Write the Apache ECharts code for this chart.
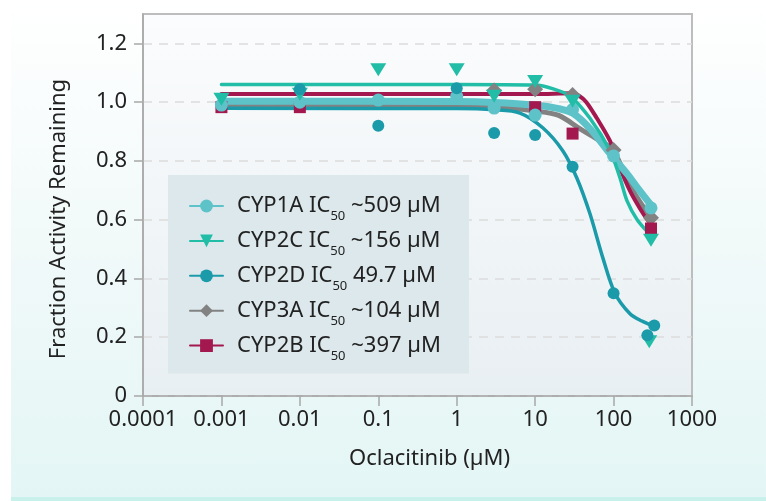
<!DOCTYPE html>
<html>
<head>
<meta charset="utf-8">
<script src="https://cdn.jsdelivr.net/npm/echarts@6/dist/echarts.min.js"></script>
<style>
  html, body { margin: 0; padding: 0; background: #ffffff; }
  #wrap { position: relative; width: 766px; height: 501px; overflow: hidden; }
  #panel { position: absolute; left: 11px; top: 0; width: 755px; height: 497px;
           background: linear-gradient(to bottom, #ffffff 0%, #f1f9f9 50%, #e3f6f5 100%); }
  #strip { position: absolute; left: 11px; top: 497px; width: 755px; height: 4px; background: #c9f1ec; }
  #chart { position: absolute; left: 0; top: 0; width: 766px; height: 501px; }
</style>
</head>
<body>
<div id="wrap">
  <div id="panel"></div>
  <div id="strip"></div>
  <div id="chart"></div>
</div>
<script>
// Axis ticks
const xTickValues = [0.0001, 0.001, 0.01, 0.1, 1, 10, 100, 1000];
const xTickLabels = ['0.0001', '0.001', '0.01', '0.1', '1', '10', '100', '1000'];
const yTickValues = [0, 0.2, 0.4, 0.6, 0.8, 1.0, 1.2];
const yTickLabels = ['0', '0.2', '0.4', '0.6', '0.8', '1.0', '1.2'];

// Enzymes and their IC50 estimates (µM)
const enzymes = ['CYP1A', 'CYP2C', 'CYP2D', 'CYP3A', 'CYP2B'];
const ic50Text = ['~509', '~156', '49.7', '~104', '~397'];

// Measured fraction of activity remaining: [concentration µM, fraction]
const cyp1aPoints = [[0.001, 0.99], [0.01, 1.0], [0.1, 1.007], [1, 1.02], [3, 0.98], [10, 0.956], [30, 0.975], [100, 0.817], [300, 0.64]];
const cyp2cPoints = [[0.001, 1.01], [0.01, 1.027], [0.1, 1.11], [1, 1.11], [3, 1.02], [10, 1.07], [30, 1.003], [300, 0.53], [285, 0.185]];
const cyp2dPoints = [[0.01, 1.044], [0.1, 0.92], [1, 1.047], [3, 0.895], [10, 0.888], [30, 0.78], [100, 0.35], [330, 0.24], [270, 0.207]];
const cyp3aPoints = [[3, 1.04], [10, 1.044], [30, 1.024], [100, 0.837], [300, 0.607]];
const cyp2bPoints = [[0.001, 0.983], [0.01, 0.983], [10, 0.983], [30, 0.893], [300, 0.57]];

// Fitted inhibition curves, sampled along concentration
const cyp1aFit = [[0.001, 1.003], [1, 1.002], [3, 0.999], [10, 0.99], [20, 0.978], [30, 0.963], [50, 0.91], [90, 0.825], [150, 0.755], [200, 0.71], [310, 0.645]];
const cyp2cFit = [[0.001, 1.06], [1, 1.06], [10, 1.058], [17, 1.045], [28, 1.02], [50, 0.945], [90, 0.835], [120, 0.745], [148, 0.665], [200, 0.6], [290, 0.55], [310, 0.545]];
const cyp2dFit = [[0.001, 0.979], [1, 0.978], [3, 0.974], [6.4, 0.963], [12.6, 0.912], [22.6, 0.834], [34, 0.742], [50, 0.62], [73, 0.47], [104, 0.35], [162, 0.28], [230, 0.255], [310, 0.24]];
const cyp3aFit = [[0.001, 0.99], [1, 0.988], [3, 0.985], [10, 0.97], [20, 0.955], [37, 0.91], [61, 0.875], [98, 0.837], [160, 0.72], [230, 0.65], [310, 0.607]];
const cyp2bFit = [[0.001, 1.028], [10, 1.028], [30, 1.03], [37, 1.02], [45, 1.0], [61, 0.946], [90, 0.868], [121, 0.776], [162, 0.698], [215, 0.64], [275, 0.597], [310, 0.585]];

const FONT = 'Noto Sans';
const TEXT = '#222222';

const styles = {
  CYP1A: { color: '#5ec3c9', width: 7, symbol: 'circle', size: 13, points: cyp1aPoints, fit: cyp1aFit },
  CYP2C: { color: '#21bda7', width: 3.5, symbol: 'path://M0,0 L16,0 L8,13 Z', size: [16, 13], points: cyp2cPoints, fit: cyp2cFit },
  CYP2D: { color: '#1b9aa9', width: 3.5, symbol: 'circle', size: 12, points: cyp2dPoints, fit: cyp2dFit },
  CYP3A: { color: '#828282', width: 5, symbol: 'diamond', size: [16, 16], points: cyp3aPoints, fit: cyp3aFit },
  CYP2B: { color: '#a3194f', width: 4, symbol: 'rect', size: 12, points: cyp2bPoints, fit: cyp2bFit }
};

// Curves drawn back to front, markers on top
const drawOrder = ['CYP3A', 'CYP2B', 'CYP1A', 'CYP2C', 'CYP2D'];
const series = [];
drawOrder.forEach(function (name) {
  const s = styles[name];
  series.push({
    name: name, type: 'line', data: s.fit, smooth: 0.3,
    showSymbol: false, symbol: s.symbol, symbolSize: s.size,
    lineStyle: { color: s.color, width: s.width, cap: 'round', join: 'round' },
    itemStyle: { color: s.color }, z: 2, silent: true
  });
});
drawOrder.forEach(function (name) {
  const s = styles[name];
  series.push({
    name: name, type: 'scatter', data: s.points,
    symbol: s.symbol, symbolSize: s.size,
    itemStyle: { color: s.color, opacity: 1 }, z: 3, silent: true
  });
});

const chart = echarts.init(document.getElementById('chart'), null, { renderer: 'canvas' });
chart.setOption({
  backgroundColor: 'transparent',
  animation: false,
  textStyle: { fontFamily: FONT },
  grid: {
    left: 143, right: 74, top: 14, bottom: 105,
    show: true, borderColor: '#bdbdbd', borderWidth: 2,
    backgroundColor: new echarts.graphic.LinearGradient(0, 0, 0, 1, [
      { offset: 0, color: '#fbfcfd' }, { offset: 1, color: '#e8eff2' }
    ]),
    outerBoundsMode: 'none'
  },
  legend: {
    data: enzymes,
    orient: 'vertical', left: 168, top: 175,
    padding: [20, 28, 11, 21],
    backgroundColor: '#dce8ec',
    itemWidth: 33, itemHeight: 16, itemGap: 6.9,
    selectedMode: false,
    formatter: function (name) {
      const i = enzymes.indexOf(name);
      return '{t|' + name + ' IC}{s|50}{t| ' + ic50Text[i] + ' µM}';
    },
    textStyle: {
      padding: [0, 0, 0, 9],
      rich: {
        t: { fontFamily: FONT, fontSize: 22, color: TEXT, lineHeight: 34 },
        s: { fontFamily: FONT, fontSize: 13, color: TEXT, lineHeight: 13, verticalAlign: 'bottom' }
      }
    }
  },
  xAxis: {
    type: 'log', logBase: 10, min: 0.0001, max: 1000,
    name: 'Oclacitinib (µM)', nameLocation: 'middle', nameGap: 52,
    nameTextStyle: { fontFamily: FONT, fontSize: 22, color: TEXT, padding: [0, 0, 0, 24] },
    axisLine: { show: true, lineStyle: { color: '#a8a8a8', width: 1.5 } },
    axisTick: { show: true, length: 10, lineStyle: { color: '#a8a8a8', width: 1.5 }, customValues: xTickValues },
    axisLabel: {
      fontFamily: FONT, fontSize: 22, color: TEXT, margin: 13,
      customValues: xTickValues,
      formatter: function (v) {
        const i = xTickValues.findIndex(function (t) { return Math.abs(Math.log10(t) - Math.log10(v)) < 1e-6; });
        return i >= 0 ? xTickLabels[i] : '';
      }
    },
    splitLine: { show: false },
    minorTick: { show: false }
  },
  yAxis: {
    type: 'value', min: 0, max: 1.3, interval: 0.2,
    name: 'Fraction Activity Remaining', nameLocation: 'middle', nameGap: 73,
    nameTextStyle: { fontFamily: FONT, fontSize: 22, color: TEXT, padding: [0, 28, 0, 0] },
    axisLine: { show: true, lineStyle: { color: '#a8a8a8', width: 1.5 } },
    axisTick: { show: true, length: 9, lineStyle: { color: '#a8a8a8', width: 1.5 }, customValues: yTickValues },
    axisLabel: {
      fontFamily: FONT, fontSize: 22, color: TEXT, margin: 16,
      customValues: yTickValues,
      formatter: function (v) {
        const i = yTickValues.findIndex(function (t) { return Math.abs(t - v) < 1e-6; });
        return i >= 0 ? yTickLabels[i] : '';
      }
    },
    splitLine: { show: true, lineStyle: { color: '#dcdcdc', width: 1.5, type: [9, 7] } }
  },
  series: series
});
</script>
</body>
</html>
